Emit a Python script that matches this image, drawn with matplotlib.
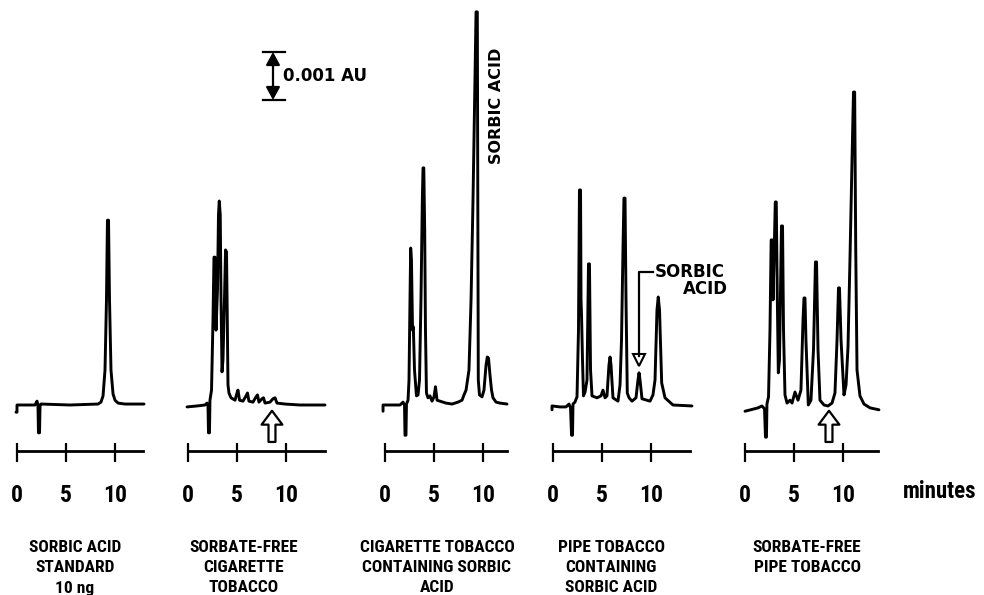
import matplotlib
matplotlib.use("Agg")
import matplotlib.pyplot as plt
from matplotlib import font_manager

# ---------------- data (time in minutes, signal in mAU = 0.001 AU) ----------------
P1_T = [-0.10, 0.00, 0.00, 1.84, 2.04, 2.14, 2.19, 2.30, 2.35, 2.45, 5.41, 8.27, 8.57, 8.78,
        8.98, 9.13, 9.23, 9.34, 9.44, 9.59, 9.80, 10.00, 10.31, 11.02, 12.96]
P1_S = [-0.15, -0.15, 0.00, 0.00, 0.08, 0.00, -0.58, -0.58, 0.00, 0.02, 0.00, 0.02, 0.06, 0.19,
        0.73, 2.19, 3.85, 3.85, 2.19, 0.73, 0.23, 0.10, 0.04, 0.02, 0.02]

P2_T = [-0.10, 0.92, 1.73, 1.94, 2.04, 2.09, 2.19, 2.24, 2.40, 2.55, 2.65, 2.76, 2.86, 3.01,
        3.11, 3.19, 3.29, 3.37, 3.47, 3.57, 3.72, 3.83, 3.93, 4.01, 4.08, 4.18, 4.39, 4.80,
        5.00, 5.10, 5.26, 5.61, 5.92, 6.07, 6.22, 6.63, 6.94, 7.09, 7.24, 7.55, 7.70, 7.86,
        8.37, 8.67, 8.88, 9.08, 9.90, 11.43, 13.98]
P2_S = [-0.04, -0.02, 0.00, 0.04, -0.02, -0.58, -0.58, 0.10, 0.31, 1.77, 3.08, 3.08, 1.56, 2.40,
        3.96, 4.25, 3.96, 2.19, 0.69, 0.94, 2.19, 3.23, 3.19, 1.77, 0.42, 0.25, 0.15, 0.10,
        0.25, 0.31, 0.10, 0.08, 0.19, 0.25, 0.08, 0.06, 0.17, 0.21, 0.06, 0.13, 0.15, 0.04,
        0.06, 0.13, 0.15, 0.04, 0.02, 0.00, 0.00]

P3_T = [-0.20, -0.20, 1.53, 1.84, 1.99, 2.04, 2.14, 2.19, 2.35, 2.45, 2.55, 2.62, 2.70, 2.81,
        2.89, 3.01, 3.21, 3.37, 3.52, 3.67, 3.81, 3.88, 3.96, 4.05, 4.13, 4.23, 4.39, 4.59,
        4.80, 5.00, 5.15, 5.31, 5.61, 6.22, 6.84, 7.45, 7.86, 8.06, 8.27, 8.57, 8.78, 8.98,
        9.18, 9.29, 9.42, 9.47, 9.52, 9.64, 9.90, 10.10, 10.31, 10.44, 10.56, 10.71, 10.87,
        11.02, 11.33, 11.73, 12.45]
P3_S = [-0.13, 0.00, 0.00, 0.06, 0.00, -0.63, -0.63, 0.02, 0.10, 0.52, 2.19, 3.27, 3.02, 1.56,
        1.63, 0.73, 0.19, 0.21, 0.52, 2.19, 4.27, 4.94, 4.94, 3.65, 1.56, 0.25, 0.15, 0.19,
        0.08, 0.17, 0.38, 0.10, 0.08, 0.04, 0.02, 0.06, 0.10, 0.21, 0.31, 0.73, 2.19, 4.27,
        6.77, 8.19, 8.19, 4.27, 0.52, 0.21, 0.17, 0.31, 0.83, 1.00, 0.98, 0.63, 0.31,
        0.15, 0.06, 0.04, 0.02]

P4_T = [-0.10, -0.10, 0.71, 1.33, 1.63, 1.79, 1.89, 1.99, 2.04, 2.24, 2.45, 2.60, 2.70, 2.81,
        2.86, 2.91, 3.01, 3.11, 3.27, 3.47, 3.62, 3.72, 3.83, 3.98, 4.49, 4.90, 5.10, 5.31,
        5.51, 5.71, 5.82, 5.92, 6.12, 6.63, 6.84, 6.99, 7.14, 7.24, 7.35, 7.45, 7.58, 7.76,
        8.06, 8.47, 8.67, 8.78, 8.88, 9.08, 9.90, 10.20, 10.41, 10.61, 10.74, 10.87, 11.09,
        11.43, 12.24, 14.18]
P4_S = [-0.10, -0.02, -0.04, -0.04, 0.02, -0.06, -0.63, -0.63, 0.02, 0.06, 0.17, 1.56, 4.48, 4.48,
        2.19, 1.88, 0.94, 0.19, 0.27, 0.52, 2.94, 2.94, 0.73, 0.19, 0.15, 0.19, 0.31, 0.15,
        0.19, 0.83, 1.00, 0.83, 0.15, 0.08, 0.42, 1.35, 3.23, 4.31, 4.31, 2.19, 0.25, 0.15,
        0.08, 0.15, 0.52, 0.67, 0.52, 0.13, 0.08, 0.21, 0.52, 1.98, 2.25, 1.98, 0.46,
        0.15, 0.00, -0.02]

P5_T = [0.00, 1.33, 1.73, 1.99, 2.09, 2.19, 2.24, 2.40, 2.55, 2.67, 2.78, 2.86, 2.96, 3.09,
        3.19, 3.30, 3.40, 3.52, 3.72, 3.83, 3.93, 4.08, 4.29, 4.59, 4.80, 5.10, 5.41, 5.71,
        5.92, 6.02, 6.12, 6.22, 6.46, 6.73, 6.99, 7.19, 7.30, 7.45, 7.65, 8.06, 8.47, 8.88,
        9.18, 9.39, 9.54, 9.64, 9.80, 10.10, 10.31, 10.51, 10.71, 10.92, 11.07, 11.19, 11.30,
        11.43, 11.73, 12.14, 12.76, 13.67]
P5_S = [-0.13, -0.06, -0.02, -0.08, -0.67, -0.67, 0.02, 0.17, 1.56, 3.44, 3.44, 2.19, 3.02, 4.23,
        4.23, 2.19, 0.67, 0.94, 3.73, 3.73, 1.56, 0.21, 0.04, 0.10, 0.04, 0.27, 0.10, 0.31,
        1.77, 2.23, 2.23, 1.35, 0.00, 0.10, 1.15, 2.98, 2.98, 1.15, 0.10, 0.00, -0.02, 0.04,
        0.25, 1.35, 2.44, 2.44, 1.35, 0.21, 0.42, 1.21, 3.02, 5.10, 6.52, 6.52, 3.23,
        0.73, 0.19, 0.02, -0.06, -0.10]

TRACES_T = [P1_T, P2_T, P3_T, P4_T, P5_T]
TRACES_S = [P1_S, P2_S, P3_S, P4_S, P5_S]
AXIS_END = [12.86, 13.98, 12.45, 13.98, 13.57]      # length of each time axis (min)
TICKS = [0, 5, 10]
TICK_LABELS = ["0", "5", "10"]
CAPTIONS = [["SORBIC ACID", "STANDARD", "10 ng"],
            ["SORBATE-FREE", "CIGARETTE", "TOBACCO"],
            ["CIGARETTE TOBACCO", "CONTAINING SORBIC", "ACID"],
            ["PIPE TOBACCO", "CONTAINING", "SORBIC ACID"],
            ["SORBATE-FREE", "PIPE TOBACCO"]]
SORBIC_LABEL = "SORBIC ACID"
SCALE_LABEL = "0.001 AU"
SCALE_MAU = 1.0
UNIT_LABEL = "minutes"
ARROW_T = {1: 8.57, 4: 8.57}                # open "absent" arrows (panel index -> time)
SORBIC_P4 = (8.78, 0.67)                     # small sorbic acid peak, panel 4

# ---------------- layout ----------------
W, H = 984, 595
PX_PER_MIN = 9.8
PX_PER_MAU = 48.0
BASE_PX = 405
ZERO_PX = [17, 188, 385, 553, 745]
CAPTION_X = [75, 244, 437, 611, 807]
CAPTION_Y = [548, 568, 588]
AXIS_Y = -0.95

# pick a narrow font if one is installed, else Liberation Sans (Arial metrics)
_names = {f.name for f in font_manager.fontManager.ttflist}
NARROW_FAMILY = None
for cand in ['Liberation Sans Narrow', 'Arial Narrow', 'Roboto Condensed', 'Open Sans Condensed']:
    if cand in _names:
        NARROW_FAMILY = cand
        break
if NARROW_FAMILY:
    NARROW = [NARROW_FAMILY, 'DejaVu Sans']
    TICK_FS, CAP_FS, UNIT_FS = 17, 12.5, 16.5
else:
    NARROW = ['Liberation Sans', 'DejaVu Sans']
    TICK_FS, CAP_FS, UNIT_FS = 14.5, 10, 13.5
HEAVY = ['DejaVu Sans']

fig = plt.figure(figsize=(W / 100, H / 100), dpi=100)
fig.patch.set_facecolor('white')

ylo = (BASE_PX - H) / PX_PER_MAU
yhi = BASE_PX / PX_PER_MAU
axes = []
for i in range(5):
    left_px = ZERO_PX[i] - 15
    width_px = 165
    ax = fig.add_axes([left_px / W, 0, width_px / W, 1])
    ax.set_xlim(-15 / PX_PER_MIN, (width_px - 15) / PX_PER_MIN)
    ax.set_ylim(ylo, yhi)
    ax.patch.set_alpha(0)
    for sp in ['top', 'right', 'left']:
        ax.spines[sp].set_visible(False)
    ax.spines['bottom'].set_position(('data', AXIS_Y))
    ax.spines['bottom'].set_bounds(0, AXIS_END[i])
    ax.spines['bottom'].set_linewidth(2.0)
    ax.set_yticks([])
    ax.xaxis.remove_overlapping_locs = False
    ax.set_xticks(TICKS)
    ax.set_xticklabels(TICK_LABELS)
    ax.set_xticks(TICKS, minor=True)
    ax.tick_params(axis='x', which='major', direction='out', length=8, width=1.6,
                   pad=16, labelsize=TICK_FS)
    ax.tick_params(axis='x', which='minor', direction='in', length=6, width=1.6)
    for lab in ax.get_xticklabels():
        lab.set_family(NARROW)
        lab.set_fontweight('bold')
    ax.plot(TRACES_T[i], TRACES_S[i], color='black', lw=2.1,
            solid_joinstyle='round', solid_capstyle='round', clip_on=False)
    axes.append(ax)

# open arrows marking absence of sorbic acid
for i, t in ARROW_T.items():
    axes[i].annotate('', xy=(t, -0.12), xytext=(t, -0.77),
                     arrowprops=dict(arrowstyle='simple,head_length=1.0,head_width=1.5,tail_width=0.5',
                                     fc='white', ec='black', lw=1.6, shrinkA=0, shrinkB=0,
                                     mutation_scale=10))

# scale bar in panel 2
sb_t = (273 - ZERO_PX[1]) / PX_PER_MIN
sb_top = (BASE_PX - 52) / PX_PER_MAU
sb_bot = sb_top - SCALE_MAU
ax2 = axes[1]
ax2.annotate('', xy=(sb_t, sb_top), xytext=(sb_t, sb_bot),
             arrowprops=dict(arrowstyle='<|-|>,head_length=0.55,head_width=0.3',
                             fc='black', ec='black', lw=1.6, shrinkA=0, shrinkB=0,
                             mutation_scale=14))
for yv in (sb_top, sb_bot):
    ax2.plot([sb_t - 1.0, sb_t + 1.2], [yv, yv], color='black', lw=1.6)
ax2.text(sb_t + 1.0, (sb_top + sb_bot) / 2, SCALE_LABEL, family=HEAVY, fontweight='bold',
         fontsize=12, ha='left', va='center')

# vertical sorbic acid label in panel 3
axes[2].text(11.33, 6.23, SORBIC_LABEL, rotation=90, family=HEAVY, fontweight='bold',
             fontsize=11.5, ha='center', va='center')

# sorbic acid pointer in panel 4
ax4 = axes[3]
tp, sp_ = SORBIC_P4
ax4.plot([tp], [sp_ + 0.27], marker='v', ms=9, mfc='white', mec='black', mew=1.5,
         clip_on=False)
ax4.plot([tp, tp, tp + 1.43], [sp_ + 0.35, 2.77, 2.77], color='black', lw=1.6)
ax4.text(tp + 1.63, 2.77, "SORBIC", family=HEAVY, fontweight='bold', fontsize=12,
         ha='left', va='center')
ax4.text(17.86, 2.42, "ACID", family=HEAVY, fontweight='bold', fontsize=12,
         ha='right', va='center')

# captions
for cx, lines in zip(CAPTION_X, CAPTIONS):
    for ly, line in zip(CAPTION_Y, lines):
        fig.text(cx / W, 1 - ly / H, line, family=NARROW, fontweight='bold',
                 fontsize=CAP_FS, ha='center', va='center')

fig.text(940 / W, 1 - 492 / H, UNIT_LABEL, family=NARROW, fontweight='bold', fontsize=UNIT_FS,
         ha='center', va='center')

fig.savefig('out.png', dpi=100, facecolor='white')
